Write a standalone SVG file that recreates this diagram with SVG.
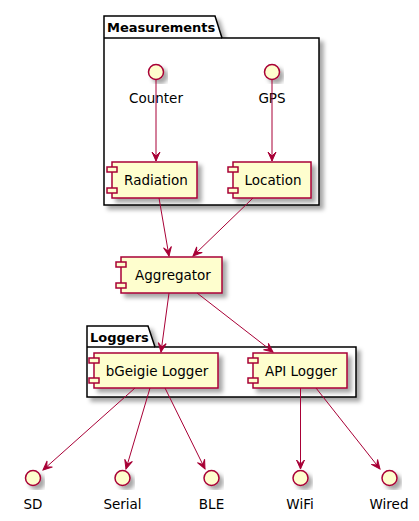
<svg xmlns="http://www.w3.org/2000/svg" width="419" height="521" viewBox="0 0 419 521">
<style>
.comp{fill:#FEFECE;stroke:#A80036;stroke-width:1.5}
.pkg{fill:#FFFFFF;stroke:#000000;stroke-width:1.5}
.ifc{fill:#FEFECE;stroke:#A80036;stroke-width:1.5}
.lbl{font-family:"DejaVu Sans",sans-serif;font-size:13.5px;fill:#000000}
.ptl{font-family:"DejaVu Sans",sans-serif;font-size:13px;font-weight:bold;fill:#000000}
.edge{fill:none;stroke:#A80036;stroke-width:1}
</style>
<defs>
<filter id="sh" x="-20%" y="-20%" width="150%" height="150%">
<feDropShadow dx="4" dy="4" stdDeviation="2" flood-color="#000000" flood-opacity="0.35"/>
</filter>
<marker id="arr" markerUnits="userSpaceOnUse" markerWidth="12" markerHeight="12" viewBox="-10 -6 12 12" refX="0" refY="0" orient="auto">
<path d="M0,0 L-9,-4 L-5,0 L-9,4 Z" fill="#A80036" stroke="#A80036" stroke-width="1"/>
</marker>
</defs>
<rect width="419" height="521" fill="#FFFFFF"/>

<g id="pkg-measurements">
<path class="pkg" filter="url(#sh)" d="M104,38 L104,16 L215,16 L222,38 L319,38 L319,205 L104,205 Z"/>
<line x1="104" y1="38" x2="222" y2="38" stroke="#000" stroke-width="1.5"/>
<text class="ptl" x="107" y="32">Measurements</text>
</g>

<g id="pkg-loggers">
<path class="pkg" filter="url(#sh)" d="M87,347 L87,326 L148,326 L155,347 L356,347 L356,397 L87,397 Z"/>
<line x1="87" y1="347" x2="155" y2="347" stroke="#000" stroke-width="1.5"/>
<text class="ptl" x="90" y="342">Loggers</text>
</g>

<g id="counter">
<circle class="ifc" filter="url(#sh)" cx="156" cy="72" r="7.5"/>
<text class="lbl" x="156" y="103" text-anchor="middle">Counter</text>
</g>
<g id="gps">
<circle class="ifc" filter="url(#sh)" cx="272" cy="72" r="7.5"/>
<text class="lbl" x="272" y="103" text-anchor="middle">GPS</text>
</g>

<g id="radiation">
<rect class="comp" filter="url(#sh)" x="112" y="162" width="85" height="36"/>
<rect class="comp" x="107" y="167" width="10" height="5"/>
<rect class="comp" x="107" y="188" width="10" height="5"/>
<text class="lbl" x="156" y="185" text-anchor="middle">Radiation</text>
</g>
<g id="location">
<rect class="comp" filter="url(#sh)" x="233" y="162" width="78" height="36"/>
<rect class="comp" x="228" y="167" width="10" height="5"/>
<rect class="comp" x="228" y="188" width="10" height="5"/>
<text class="lbl" x="273" y="185" text-anchor="middle">Location</text>
</g>
<g id="aggregator">
<rect class="comp" filter="url(#sh)" x="121" y="257" width="101" height="36"/>
<rect class="comp" x="116" y="262" width="10" height="5"/>
<rect class="comp" x="116" y="283" width="10" height="5"/>
<text class="lbl" x="173" y="280" text-anchor="middle">Aggregator</text>
</g>
<g id="bgeigie-logger">
<rect class="comp" filter="url(#sh)" x="94" y="353" width="124" height="35"/>
<rect class="comp" x="89" y="358" width="10" height="5"/>
<rect class="comp" x="89" y="378" width="10" height="5"/>
<text class="lbl" x="157" y="376" text-anchor="middle">bGeigie Logger</text>
</g>
<g id="api-logger">
<rect class="comp" filter="url(#sh)" x="253" y="353" width="94" height="35"/>
<rect class="comp" x="248" y="358" width="10" height="5"/>
<rect class="comp" x="248" y="378" width="10" height="5"/>
<text class="lbl" x="301" y="376" text-anchor="middle">API Logger</text>
</g>

<g id="sd">
<circle class="ifc" filter="url(#sh)" cx="33" cy="478" r="7.5"/>
<text class="lbl" x="33" y="509" text-anchor="middle">SD</text>
</g>
<g id="serial">
<circle class="ifc" filter="url(#sh)" cx="122.5" cy="478" r="7.5"/>
<text class="lbl" x="122.5" y="509" text-anchor="middle">Serial</text>
</g>
<g id="ble">
<circle class="ifc" filter="url(#sh)" cx="211.5" cy="478" r="7.5"/>
<text class="lbl" x="211.5" y="509" text-anchor="middle">BLE</text>
</g>
<g id="wifi">
<circle class="ifc" filter="url(#sh)" cx="300.5" cy="478" r="7.5"/>
<text class="lbl" x="300" y="509" text-anchor="middle">WiFi</text>
</g>
<g id="wired">
<circle class="ifc" filter="url(#sh)" cx="389.5" cy="478" r="7.5"/>
<text class="lbl" x="389" y="509" text-anchor="middle">Wired</text>
</g>

<g id="connectors">
<line class="edge" marker-end="url(#arr)" x1="156" y1="80" x2="156" y2="161"/>
<line class="edge" marker-end="url(#arr)" x1="272" y1="80" x2="272" y2="161"/>
<line class="edge" marker-end="url(#arr)" x1="159" y1="198" x2="169" y2="256"/>
<line class="edge" marker-end="url(#arr)" x1="253" y1="198" x2="193" y2="256"/>
<line class="edge" marker-end="url(#arr)" x1="169" y1="293" x2="161" y2="352"/>
<line class="edge" marker-end="url(#arr)" x1="197" y1="293" x2="273" y2="352"/>
<line class="edge" marker-end="url(#arr)" x1="135" y1="388" x2="43" y2="470"/>
<line class="edge" marker-end="url(#arr)" x1="150" y1="388" x2="126" y2="469"/>
<line class="edge" marker-end="url(#arr)" x1="165" y1="388" x2="205" y2="469"/>
<line class="edge" marker-end="url(#arr)" x1="300.5" y1="388" x2="300.5" y2="469"/>
<line class="edge" marker-end="url(#arr)" x1="316" y1="388" x2="380" y2="469"/>
</g>
</svg>
